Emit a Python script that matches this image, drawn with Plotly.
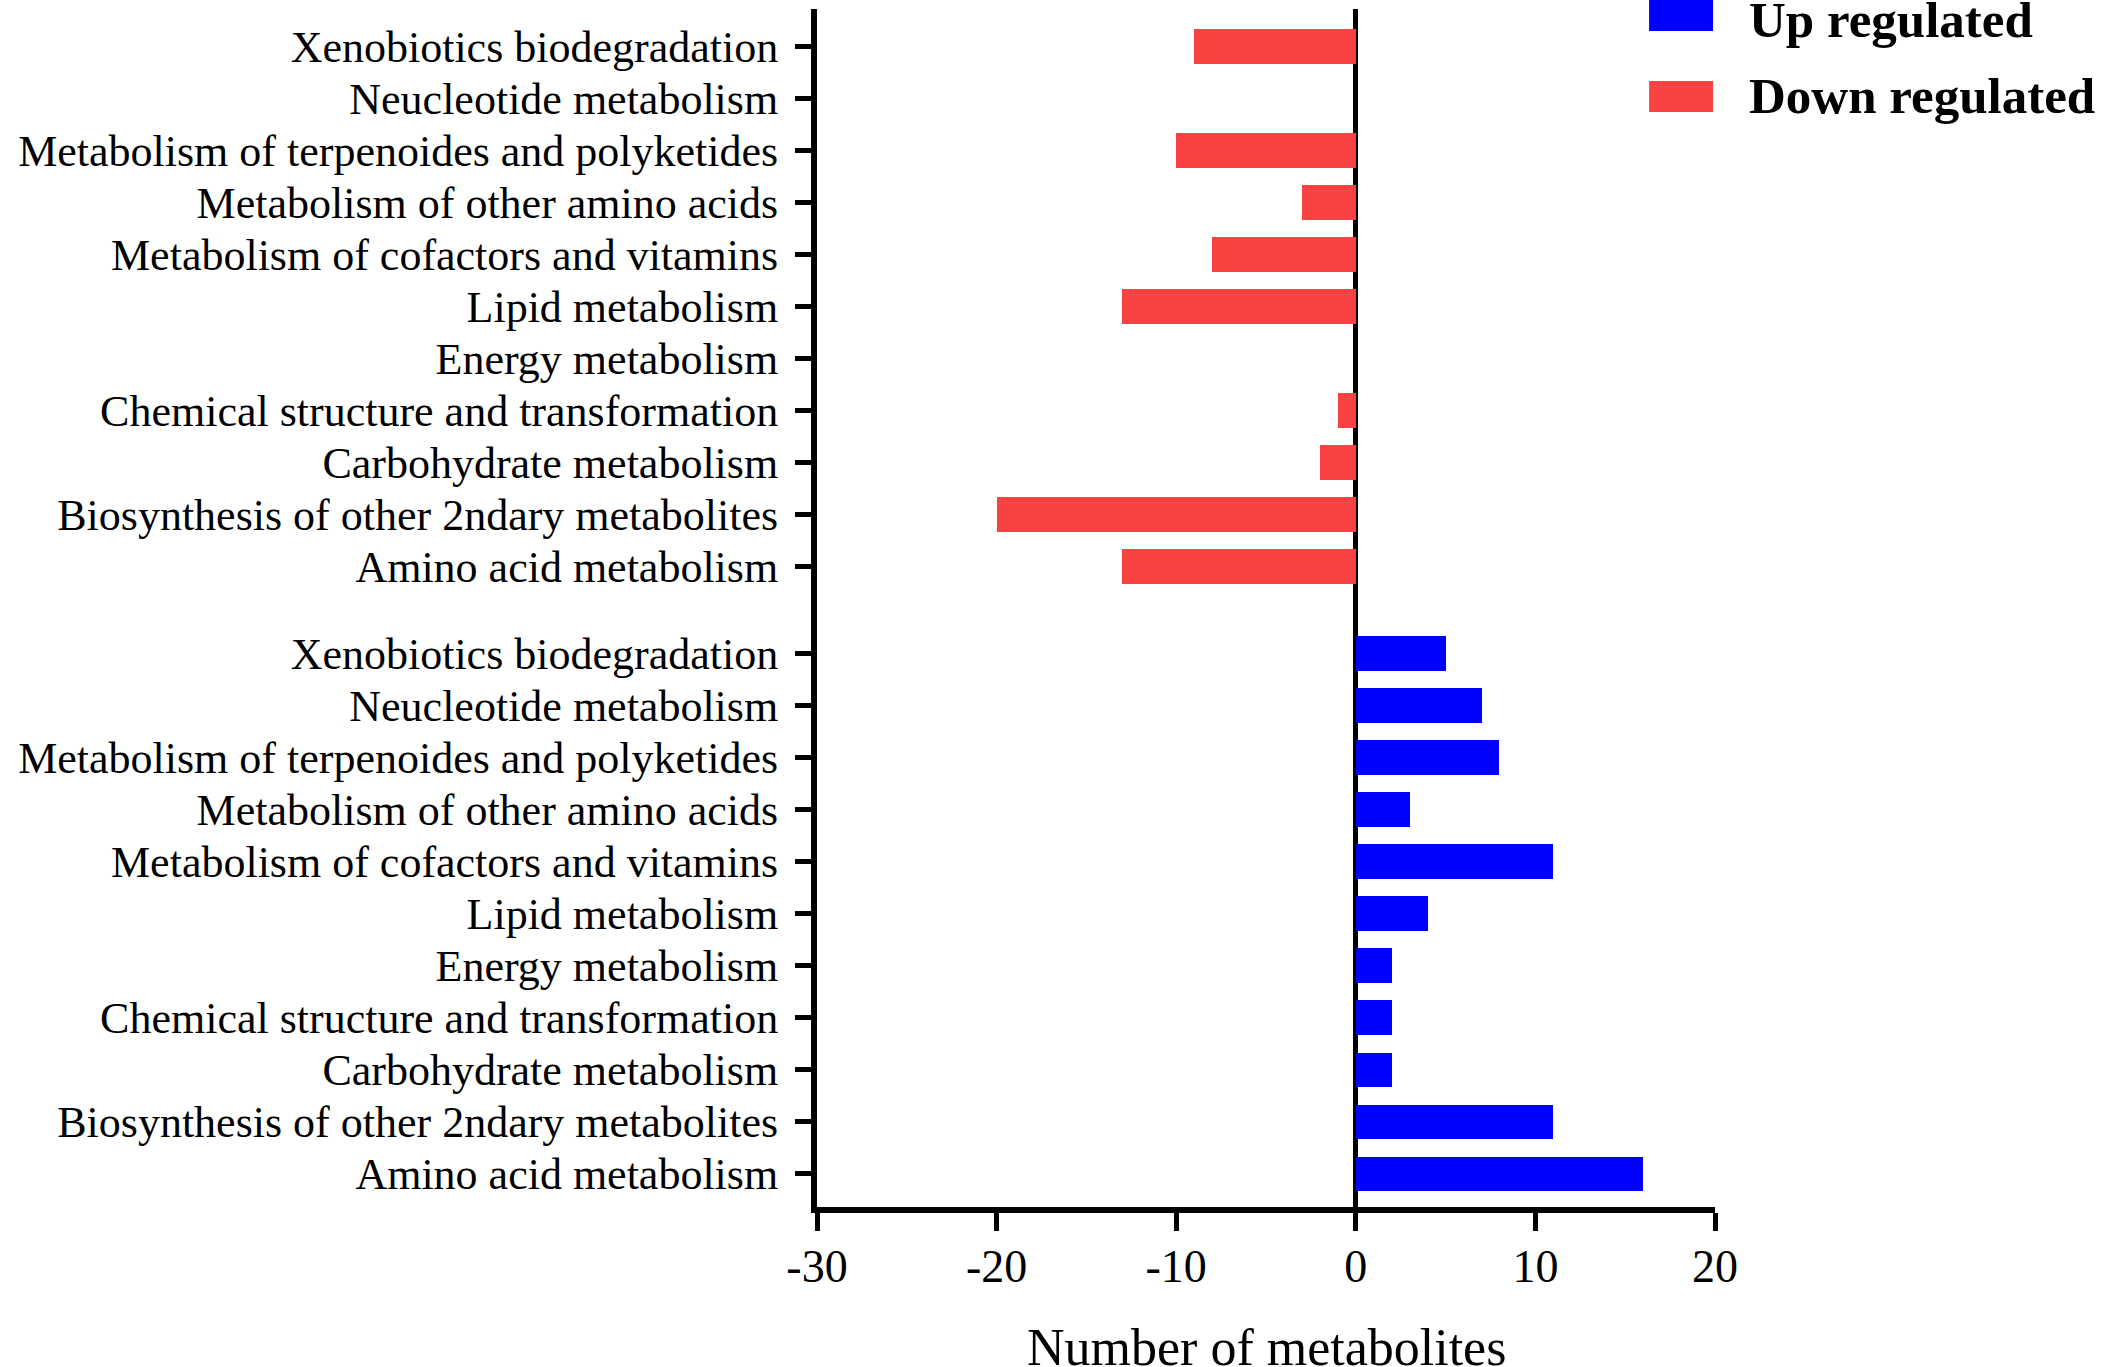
import plotly.graph_objects as go

# pathway categories, bottom to top within each group
pathways = [
    "Amino acid metabolism",
    "Biosynthesis of other 2ndary metabolites",
    "Carbohydrate metabolism",
    "Chemical structure and transformation",
    "Energy metabolism",
    "Lipid metabolism",
    "Metabolism of cofactors and vitamins",
    "Metabolism of other amino acids",
    "Metabolism of terpenoides and polyketides",
    "Neucleotide metabolism",
    "Xenobiotics biodegradation",
]
up_counts = [16, 11, 2, 2, 2, 4, 11, 3, 8, 7, 5]
down_counts = [-13, -20, -2, -1, 0, -13, -8, -3, -10, 0, -9]
x_ticks = [-30, -20, -10, 0, 10, 20]

FONT = "Liberation Serif, Times New Roman, serif"
BLUE = "#0000FF"
RED = "#FA4242"

n = len(pathways)
gap = 1.67
up_pos = list(range(n))
down_pos = [i + n - 1 + gap for i in range(n)]

fig = go.Figure()
fig.add_trace(go.Bar(
    x=up_counts, y=up_pos, orientation="h", width=0.66,
    marker=dict(color=BLUE, line=dict(width=0)), name="Up regulated",
    showlegend=False,
))
fig.add_trace(go.Bar(
    x=down_counts, y=down_pos, orientation="h", width=0.66,
    marker=dict(color=RED, line=dict(width=0)), name="Down regulated",
    showlegend=False,
))

fig.update_xaxes(
    range=[-30, 20], tickvals=x_ticks, ticktext=[str(v) for v in x_ticks],
    ticks="outside", ticklen=18, tickwidth=5, automargin=False,
    tickcolor="black", showline=True, linecolor="black", linewidth=6,
    showgrid=False, zeroline=True, zerolinecolor="black", zerolinewidth=5,
    ticklabelstandoff=-4,
    tickfont=dict(family=FONT, size=46, color="black"),
)
fig.update_yaxes(
    range=[-0.64, down_pos[-1] + 0.72], tickvals=up_pos + down_pos,
    ticktext=pathways + pathways, ticks="outside", ticklen=16, tickwidth=5,
    tickcolor="black", showline=True, linecolor="black", linewidth=6,
    showgrid=False, zeroline=False, ticklabelstandoff=8, automargin=False,
    tickfont=dict(family=FONT, size=44, color="black"),
)

# x axis title sits lower than plotly's margin would allow, so place it directly
fig.add_annotation(text="Number of metabolites", xref="paper", yref="paper",
                   x=0.5, y=-0.117, xanchor="center", yanchor="middle",
                   showarrow=False,
                   font=dict(family=FONT, size=52, color="black"))

# legend drawn by hand so the swatches can be large rectangles
legend_items = [("Up regulated", BLUE, 0.9946), ("Down regulated", RED, 0.927)]
for label, color, yc in legend_items:
    fig.add_shape(type="rect", xref="paper", yref="paper",
                  x0=0.9266, x1=0.9978, y0=yc - 0.0129, y1=yc + 0.0129,
                  fillcolor=color, line=dict(width=0))
    fig.add_annotation(text="<b>" + label + "</b>", xref="paper", yref="paper",
                       x=1.036, y=min(yc, 0.991), xanchor="left", yanchor="middle",
                       showarrow=False,
                       font=dict(family=FONT, size=51, color="black"))

fig.update_layout(
    width=2101, height=1367,
    margin=dict(l=817, r=386, t=9, b=160),
    plot_bgcolor="white", paper_bgcolor="white",
    bargap=0,
)

fig.write_html("out.html", config={"displayModeBar": False},
               post_script="document.body.style.margin = '0';")
